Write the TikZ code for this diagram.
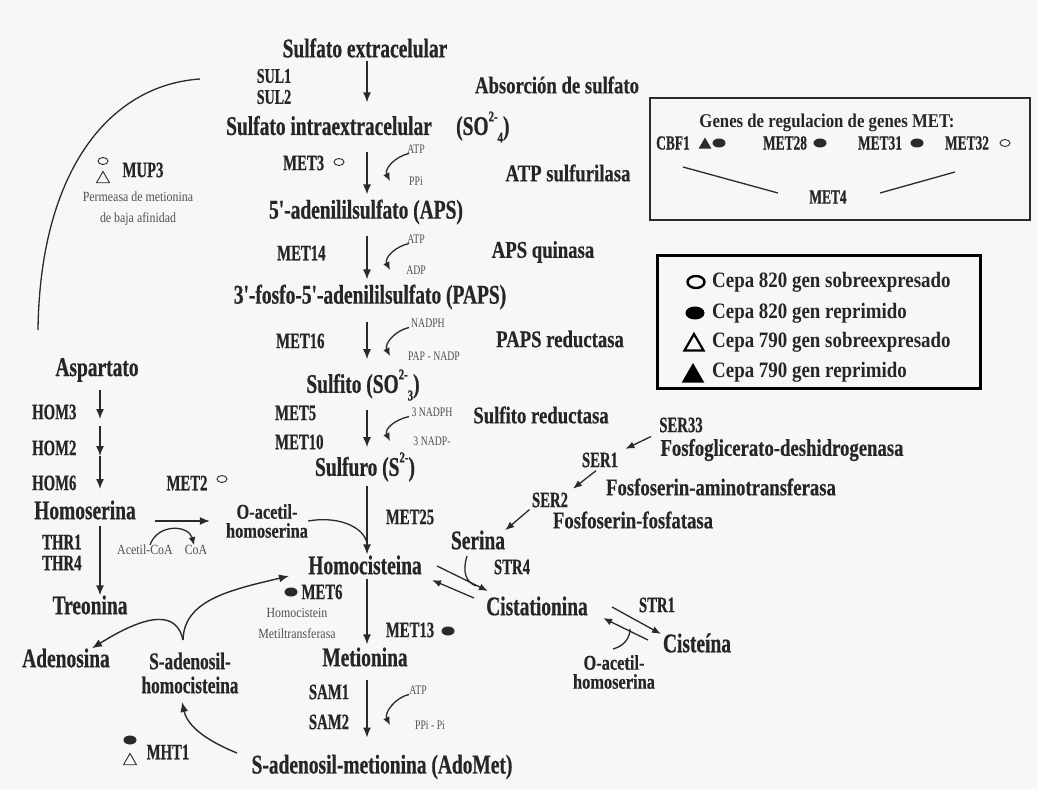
\documentclass[tikz,border=0pt]{standalone}
\usepackage{fontspec}
\usetikzlibrary{arrows.meta,shapes.geometric}
\setmainfont{Liberation Serif}
\newfontfamily\fmet{Liberation Serif}[FakeStretch=0.72,FakeBold=0.6]
\newfontfamily\fenz{Liberation Serif}[FakeStretch=0.78,FakeBold=0.4]
\newfontfamily\fsml{Liberation Serif}[FakeStretch=0.85]
\newfontfamily\fgen{Liberation Serif}[FakeStretch=0.67,FakeBold=0.6]
\newfontfamily\ftin{Liberation Serif}[FakeStretch=0.75]
\newfontfamily\fleg{Liberation Serif}[FakeStretch=0.86]
\definecolor{tx}{HTML}{262626}
\definecolor{st}{HTML}{505050}
\definecolor{bg}{HTML}{F7F7F7}
\definecolor{lc}{HTML}{2A2A2A}
\newcommand\cofarrow[2]{\draw[carr] (sx |- #1.south) .. controls +(-14,3) and +(-6,-12) .. (cx |- #2.center);}
\newcommand\chsup[1]{\raisebox{0.5em}{\fontsize{15}{15}\selectfont #1}}
\newcommand\chsub[1]{\raisebox{-0.28em}{\fontsize{15}{15}\selectfont #1}}
\begin{document}
\begin{tikzpicture}[x=1pt,y=-1pt,
  met/.style={font=\fmet\bfseries\fontsize{27}{28}\selectfont,text=tx,inner sep=0pt,align=center},
  mettwo/.style={font=\fenz\bfseries\fontsize{21}{19}\selectfont,text=tx,inner sep=0pt,align=center},
  enz/.style={font=\fenz\bfseries\fontsize{24}{26}\selectfont,text=tx,inner sep=0pt},
  gen/.style={font=\fgen\bfseries\fontsize{22}{24}\selectfont,text=tx,inner sep=0pt},
  genb/.style={font=\fgen\bfseries\fontsize{20}{22}\selectfont,text=tx,inner sep=0pt},
  tin/.style={font=\ftin\fontsize{13}{14}\selectfont,text=st,inner sep=0pt},
  sml/.style={font=\fsml\fontsize{14}{21}\selectfont,text=st,inner sep=0pt,align=center},
  leg/.style={font=\fleg\bfseries\fontsize{22}{24}\selectfont,text=tx,inner sep=0pt,anchor=west},
  arr/.style={draw=lc,line width=1.4pt,-{Latex[length=10pt,width=8pt]}},
  sarr/.style={draw=lc,line width=1.3pt,-{Latex[length=9pt,width=7pt]}},
  carr/.style={draw=lc,line width=1.3pt,-{Latex[length=8pt,width=7pt]}},
  ln/.style={draw=lc,line width=1.3pt},
  osym/.style={ellipse,draw=lc,line width=0.9pt,minimum width=10pt,minimum height=7pt,inner sep=0pt},
  fsym/.style={ellipse,fill=lc,minimum width=13pt,minimum height=9pt,inner sep=0pt},
  otri/.style={regular polygon,regular polygon sides=3,draw=lc,line width=0.9pt,minimum size=15pt,inner sep=0pt},
  lo/.style={ellipse,draw=black,line width=2.4pt,minimum width=17pt,minimum height=12pt,inner sep=0pt},
  lf/.style={ellipse,fill=black,minimum width=19pt,minimum height=13pt,inner sep=0pt},
  lot/.style={regular polygon,regular polygon sides=3,draw=black,line width=2.2pt,minimum size=22pt,inner sep=0pt},
  lft/.style={regular polygon,regular polygon sides=3,fill=black,minimum size=26pt,inner sep=0pt},
  ft/.style={regular polygon,regular polygon sides=3,fill=lc,minimum size=15pt,inner sep=0pt},
]
\fill[bg] (0,0) rectangle (1037,789);
\useasboundingbox (0,0) rectangle (1037,789);
\coordinate (col) at (367,0);
\coordinate (sx) at (409,0);
\coordinate (cx) at (390,0);

% ---- main sulfate column ----
\node[met] (se) at (365,48) {Sulfato extracelular};
\node[gen,font=\fgen\bfseries\fontsize{21}{22}\selectfont] (sul1) at (274,76) {SUL1};
\node[gen,font=\fgen\bfseries\fontsize{21}{22}\selectfont] (sul2) at (274,97) {SUL2};
\node[enz] (abs) at (557,85) {Absorción de sulfato};
\node[met,anchor=west] (si) at (226,127) {Sulfato intraextracelular\hspace{0.9em}(SO\chsup{2-}\chsub{4})};
\node[gen,anchor=west] (met3) at (283,163) {MET3};
\node[osym] (met3s) at (339,162) {};
\node[tin] (atp1) at (416,149) {ATP};
\node[tin] (ppi1) at (416,181) {PPi};
\node[enz] (e1) at (568,173) {ATP sulfurilasa};
\node[met] (aps) at (366,212) {5'-adenililsulfato (APS)};
\node[gen,anchor=west] (met14) at (277,253) {MET14};
\node[tin] (atp2) at (416,239) {ATP};
\node[tin] (adp2) at (416,270) {ADP};
\node[enz] (e2) at (543,252) {APS quinasa};
\node[met] (paps) at (370,297) {3'-fosfo-5'-adenililsulfato (PAPS)};
\node[gen,anchor=west] (met16) at (276,341) {MET16};
\node[tin] (nadph) at (428,323) {NADPH};
\node[tin] (papn) at (434,356) {PAP - NADP};
\node[enz] (e3) at (560,339) {PAPS reductasa};
\node[met] (sulfito) at (363,385) {Sulfito (SO\chsup{2-}\chsub{3})};
\node[gen,anchor=west] (met5) at (275,413) {MET5};
\node[gen,anchor=west] (met10) at (275,442) {MET10};
\node[tin] (nadph3) at (432,412) {3 NADPH};
\node[tin] (nadp3) at (432,441) {3 NADP-};
\node[enz] (e4) at (541,415) {Sulfito reductasa};
\node[met] (sulfuro) at (365,467) {Sulfuro (S\chsup{2-})};

\draw[arr,shorten <=3pt,shorten >=9pt] (se.south -| col) -- (si.north -| col);
\draw[arr,shorten <=9pt,shorten >=5pt] (si.south -| col) -- (aps.north -| col);
\draw[arr,shorten <=11pt,shorten >=5pt] (aps.south -| col) -- (paps.north -| col);
\draw[arr,shorten <=12pt,shorten >=10pt] (paps.south -| col) -- (sulfito.north -| col);
\draw[arr,shorten <=9pt,shorten >=5pt] (sulfito.south -| col) -- (sulfuro.north -| col);
\cofarrow{atp1}{ppi1}
\cofarrow{atp2}{adp2}
\cofarrow{nadph}{papn}
\cofarrow{nadph3}{nadp3}

% ---- MUP3 and the membrane arc ----
\draw[ln] (200,79) .. controls (110,85) and (40,170) .. (38,330);
\node[osym] (mup3o) at (103,161) {};
\node[otri] (mup3t) at (103,179) {};
\node[gen] (mup3) at (143,170) {MUP3};
\node[sml] (perm) at (138,209) {Permeasa de metionina\\de baja afinidad};

% ---- aspartate branch ----
\node[met] (asp) at (97,370) {Aspartato};
\node[gen,anchor=west] (hom3) at (32,412) {HOM3};
\node[gen,anchor=west] (hom2) at (32,448) {HOM2};
\node[gen,anchor=west] (hom6) at (32,483) {HOM6};
\node[met] (homoser) at (85,510) {Homoserina};
\coordinate (la1) at (100,390);
\coordinate (la2) at (100,419);
\coordinate (la3) at (100,426);
\coordinate (la4) at (100,456);
\coordinate (la5) at (100,489);
\draw[arr] (la1) -- (la2);
\draw[arr] (la3) -- (la4);
\draw[arr] (la4) -- (la5);
\node[gen,anchor=west] (thr1) at (42,542) {THR1};
\node[gen,anchor=west] (thr4) at (42,563) {THR4};
\node[met] (treo) at (90,605) {Treonina};
\draw[arr,shorten <=6pt] (homoser.south -| la1) -- (treo.north -| la1);

\node[gen] (met2) at (187,483) {MET2};
\node[osym] (met2s) at (222,479) {};
\node[mettwo] (oah) at (267,521) {O-acetil-\\homoserina};
\draw[arr,shorten <=19pt,shorten >=16pt] (homoser.east |- oah.west) -- (oah.west);
\node[sml] (acoa) at (145,550) {Acetil-CoA};
\node[sml] (coa) at (196,550) {CoA};
\draw[carr] ([xshift=5pt]acoa.north) .. controls +(8,-22) and +(-5,-20) .. ([xshift=-2pt]coa.north);

% ---- homocysteine / methionine ----
\node[met] (homo) at (365,565) {Homocisteina};
\node[gen] (met25) at (410,517) {MET25};
\draw[arr,shorten <=4pt,shorten >=1pt] (sulfuro.south -| col) -- (homo.north -| col);
\draw[ln,shorten >=10pt] (oah.east) .. controls +(35,-6) and +(0,-25) .. (homo.north -| col);
\node[fsym] (met6s) at (291,592) {};
\node[gen] (met6) at (322,592) {MET6};
\node[sml] (hmt) at (297,623) {Homocistein\\Metiltransferasa};
\node[gen] (met13) at (410,630) {MET13};
\node[fsym] (met13s) at (448,631) {};
\node[met] (meti) at (365,657) {Metionina};
\draw[arr,shorten <=4pt,shorten >=3pt] (homo.south -| col) -- (meti.north -| col);
\node[gen] (sam1) at (329,692) {SAM1};
\node[gen] (sam2) at (329,722) {SAM2};
\node[tin] (atp5) at (418,690) {ATP};
\node[tin] (ppi5) at (430,725) {PPi - Pi};
\node[met] (adomet) at (382,767) {S-adenosil-metionina (AdoMet)};
\draw[arr,shorten <=13pt,shorten >=17pt] (meti.south -| col) -- (adomet.north -| col);
\cofarrow{atp5}{ppi5}

% ---- SAM cycle ----
\node[met] (adeno) at (66,658) {Adenosina};
\node[met,font=\fmet\bfseries\fontsize{24}{24}\selectfont] (sah) at (190,673) {S-adenosil-\\homocisteina};
\coordinate (sahtop) at (183,640);
\coordinate (sahbot) at (182,702);
\coordinate (homoin) at (289,576);
\coordinate (adoL) at (237,753);
\draw[arr] (sahtop) .. controls (177,612) and (150,612) .. ([xshift=26pt]adeno.north);
\draw[arr] (sahtop) .. controls (184,600) and (230,590) .. (homoin);
\draw[arr] (adoL) .. controls (210,742) and (188,728) .. (sahbot);
\node[fsym] (mht1s) at (130,740) {};
\node[otri] (mht1t) at (130,761) {};
\node[gen] (mht1) at (168,752) {MHT1};

% ---- serine branch ----
\node[gen] (ser33) at (681,425) {SER33};
\node[enz] (fgd) at (782,450) {Fosfoglicerato-deshidrogenasa};
\node[gen] (ser1) at (600,460) {SER1};
\node[enz] (fsat) at (721,487) {Fosfoserin-aminotransferasa};
\node[gen] (ser2) at (550,500) {SER2};
\node[enz] (fsf) at (633,520) {Fosfoserin-fosfatasa};
\node[met] (serina) at (478,540) {Serina};
\draw[sarr,shorten <=9pt,shorten >=8pt] (ser33.south west) -- (ser1.north east);
\draw[sarr,shorten <=5pt,shorten >=6pt] (ser1.south) -- (ser2.north east);
\draw[sarr,shorten <=3pt] (ser2.south west) -- (serina.north east);
\node[gen] (str4) at (512,567) {STR4};
\node[met] (cist) at (537,606) {Cistationina};
\node[gen] (str1) at (657,605) {STR1};
\node[met] (cis) at (697,643) {Cisteína};
\node[mettwo] (oah2) at (614,672) {O-acetil-\\homoserina};
\coordinate (f1a) at (437,566);
\coordinate (f1b) at (488,591);
\coordinate (r1a) at (474,598);
\coordinate (r1b) at (432,580);
\coordinate (sc) at (467,556);
\coordinate (scj) at (476,586);
\draw[sarr] (f1a) -- (f1b);
\draw[sarr] (r1a) -- (r1b);
\draw[ln] (sc) .. controls (462,572) and (466,582) .. (scj);
\coordinate (f2a) at (612,607);
\coordinate (f2b) at (661,634);
\coordinate (r2a) at (648,640);
\coordinate (r2b) at (603,618);
\coordinate (oc) at (613,649);
\coordinate (ocj) at (630,629);
\draw[sarr] (f2a) -- (f2b);
\draw[sarr] (r2a) -- (r2b);
\draw[ln] (oc) .. controls (624,646) and (630,638) .. (ocj);

% ---- regulation box ----
\draw[line width=1.2pt,draw=lc] (650,98) rectangle (1030,220);
\node[font=\fleg\bfseries\fontsize{19.5}{22}\selectfont,text=tx,inner sep=0pt] (gtitle) at (827,123) {Genes de regulacion de genes MET:};
\node[genb] (cbf1) at (673,143) {CBF1};
\node[ft] (cbf1t) at (705,145) {};
\node[fsym] (cbf1c) at (719,143) {};
\node[genb] (met28) at (785,143) {MET28};
\node[fsym] (met28c) at (820,143) {};
\node[genb] (met31) at (880,143) {MET31};
\node[fsym] (met31c) at (917,143) {};
\node[genb] (met32) at (967,143) {MET32};
\node[osym] (met32c) at (1005,143) {};
\node[genb] (met4) at (828,197) {MET4};
\coordinate (l1a) at (683,167);
\coordinate (l1b) at (778,193);
\coordinate (l2a) at (880,193);
\coordinate (l2b) at (955,172);
\draw[ln] (l1a) -- (l1b);
\draw[ln] (l2a) -- (l2b);

% ---- legend ----
\draw[line width=3pt,draw=black] (657,255) rectangle (980,388);
\node[lo] (s1) at (696,282) {};
\node[leg] (t1) at (712,282) {Cepa 820 gen sobreexpresado};
\node[lf] (s2) at (695,313) {};
\node[leg] (t2) at (712,313) {Cepa 820 gen reprimido};
\node[lot] (s3) at (694,345) {};
\node[leg] (t3) at (712,342) {Cepa 790 gen sobreexpresado};
\node[lft] (s4) at (693,376) {};
\node[leg] (t4) at (712,372) {Cepa 790 gen reprimido};
\end{tikzpicture}
\end{document}
